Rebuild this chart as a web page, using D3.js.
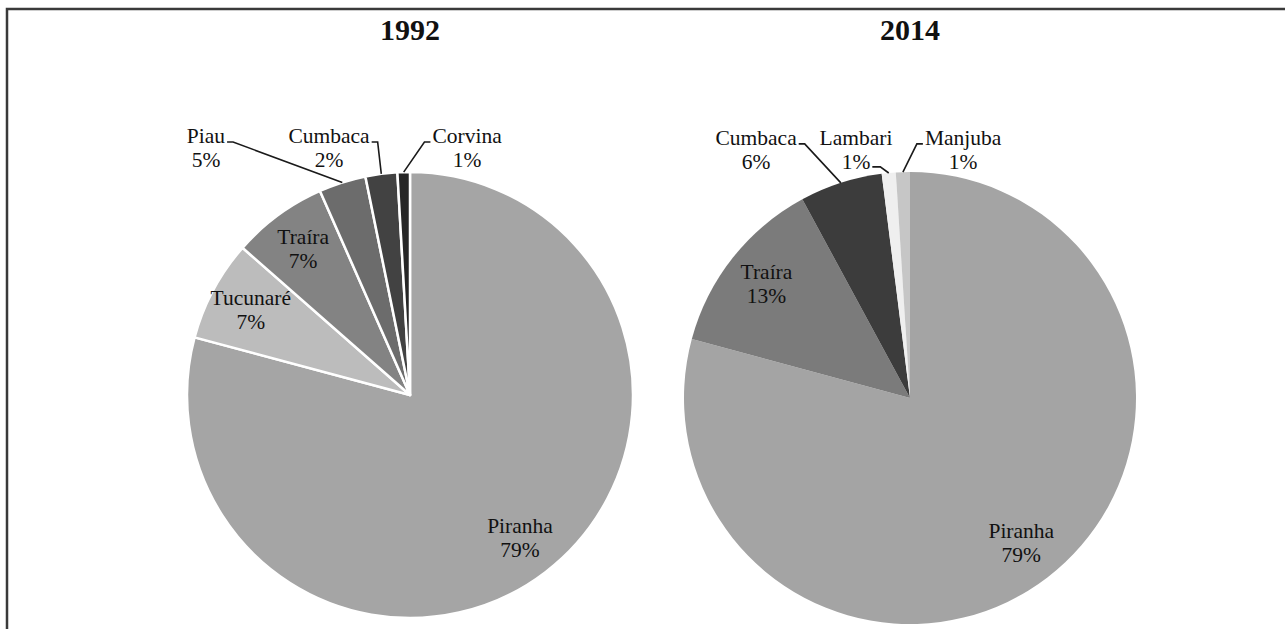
<!DOCTYPE html>
<html>
<head>
<meta charset="utf-8">
<script src="https://cdn.jsdelivr.net/npm/d3@7"></script>
<style>
  body { margin: 0; background: #fff; }
  text { font-family: "Liberation Serif", "Times New Roman", serif; fill: #111; }
  .chart-title { font-size: 30px; font-weight: bold; }
  .slice-label { font-size: 21.5px; }
</style>
</head>
<body>
<div id="chart_container"></div>
<script>
// 1992 catch composition (slice shares, labels as printed)
const fish1992 = ["Piranha", "Tucunaré", "Traíra", "Piau", "Cumbaca", "Corvina"];
const share1992 = [79.0, 7.3, 6.9, 3.4, 2.3, 0.9];
const label1992 = ["79%", "7%", "7%", "5%", "2%", "1%"];

// 2014 catch composition
const fish2014 = ["Piranha", "Traíra", "Cumbaca", "Lambari", "Manjuba"];
const share2014 = [79.2, 12.9, 5.9, 1.0, 1.0];
const label2014 = ["79%", "13%", "6%", "1%", "1%"];

class PieChart {
  constructor(svg, opts) {
    this.svg = svg;
    this.cx = opts.cx;
    this.cy = opts.cy;
    this.r = opts.r;
    this.title = opts.title;
    this.colors = opts.colors;
    this.stroke = opts.stroke;
    this.outside = opts.outside; // names labelled outside, with offset from centre
  }

  draw(names, shares, labels) {
    const data = names.map((n, i) => ({ name: n, value: shares[i], label: labels[i] }));
    const pie = d3.pie().sort(null).value((d) => d.value);
    const arcs = pie(data);
    const arc = d3.arc().innerRadius(0).outerRadius(this.r);
    const labelArc = d3.arc().innerRadius(this.r * 0.81).outerRadius(this.r * 0.81);
    const color = d3.scaleOrdinal().domain(names).range(this.colors);

    const g = this.svg.append("g")
      .attr("transform", `translate(${this.cx}, ${this.cy})`);

    g.append("text")
      .attr("class", "chart-title")
      .attr("x", 0)
      .attr("y", -this.cy + 40)
      .attr("text-anchor", "middle")
      .text(this.title);

    g.selectAll("path.slice")
      .data(arcs)
      .join("path")
      .attr("class", "slice")
      .attr("d", arc)
      .attr("fill", (d) => color(d.data.name))
      .attr("stroke", this.stroke ? "#fff" : "none")
      .attr("stroke-width", this.stroke ? 2.5 : 0)
      .attr("stroke-linejoin", "round");

    // inside labels
    arcs.filter((d) => !this.outside[d.data.name]).forEach((d) => {
      const [x, y] = labelArc.centroid(d);
      const t = g.append("text")
        .attr("class", "slice-label")
        .attr("text-anchor", "middle");
      t.append("tspan").attr("x", x).attr("y", y - 5).text(d.data.name);
      t.append("tspan").attr("x", x).attr("y", y + 19).text(d.data.label);
    });

    // outside labels with leader lines
    arcs.filter((d) => this.outside[d.data.name]).forEach((d) => {
      const [dx, dy] = this.outside[d.data.name];
      const x = dx * this.r, y = dy * this.r;
      const t = g.append("text")
        .attr("class", "slice-label")
        .attr("text-anchor", "middle");
      const s1 = t.append("tspan").attr("x", x).attr("y", y).text(d.data.name);
      const s2 = t.append("tspan").attr("x", x).attr("y", y + 24).text(d.data.label);
      const w1 = s1.node().getComputedTextLength();
      const w2 = s2.node().getComputedTextLength();

      const mid = (d.startAngle + d.endAngle) / 2;
      const ex = Math.sin(mid) * this.r;
      const ey = -Math.cos(mid) * this.r;

      let pts;
      if (ex > x + w1 / 2) {
        const sx = x + w1 / 2 + 2;
        pts = [[sx, y - 1], [sx + 6, y - 1], [ex, ey]];
      } else if (ex < x - w1 / 2) {
        const sx = x - w1 / 2 - 2;
        pts = [[sx, y - 1], [sx - 6, y - 1], [ex, ey]];
      } else {
        const sx = x + w2 / 2 + 2;
        pts = [[sx, y + 22], [sx + 8, y + 22], [ex, ey]];
      }
      g.append("path")
        .attr("d", d3.line()(pts))
        .attr("fill", "none")
        .attr("stroke", "#1a1a1a")
        .attr("stroke-width", 1.6);
    });
  }
}

const svg = d3.select("#chart_container")
  .append("svg")
  .attr("width", 1285)
  .attr("height", 629);

// frame (left and top edges only are visible)
svg.append("path")
  .attr("d", "M7,640 V9 H1290")
  .attr("fill", "none")
  .attr("stroke", "#3a3a3a")
  .attr("stroke-width", 2.5);

new PieChart(svg, {
  cx: 410, cy: 395, r: 223, title: "1992",
  colors: ["#a5a5a5", "#bcbcbc", "#838383", "#6c6c6c", "#424242", "#262626"],
  stroke: true,
  outside: {
    Piau: [-0.915, -1.13],
    Cumbaca: [-0.363, -1.13],
    Corvina: [0.256, -1.13]
  }
}).draw(fish1992, share1992, label1992);

new PieChart(svg, {
  cx: 910, cy: 398, r: 226, title: "2014",
  colors: ["#a4a4a4", "#7b7b7b", "#3c3c3c", "#efefef", "#c6c6c6"],
  stroke: false,
  outside: {
    Cumbaca: [-0.681, -1.12],
    Lambari: [-0.239, -1.12],
    Manjuba: [0.235, -1.12]
  }
}).draw(fish2014, share2014, label2014);
</script>
</body>
</html>
